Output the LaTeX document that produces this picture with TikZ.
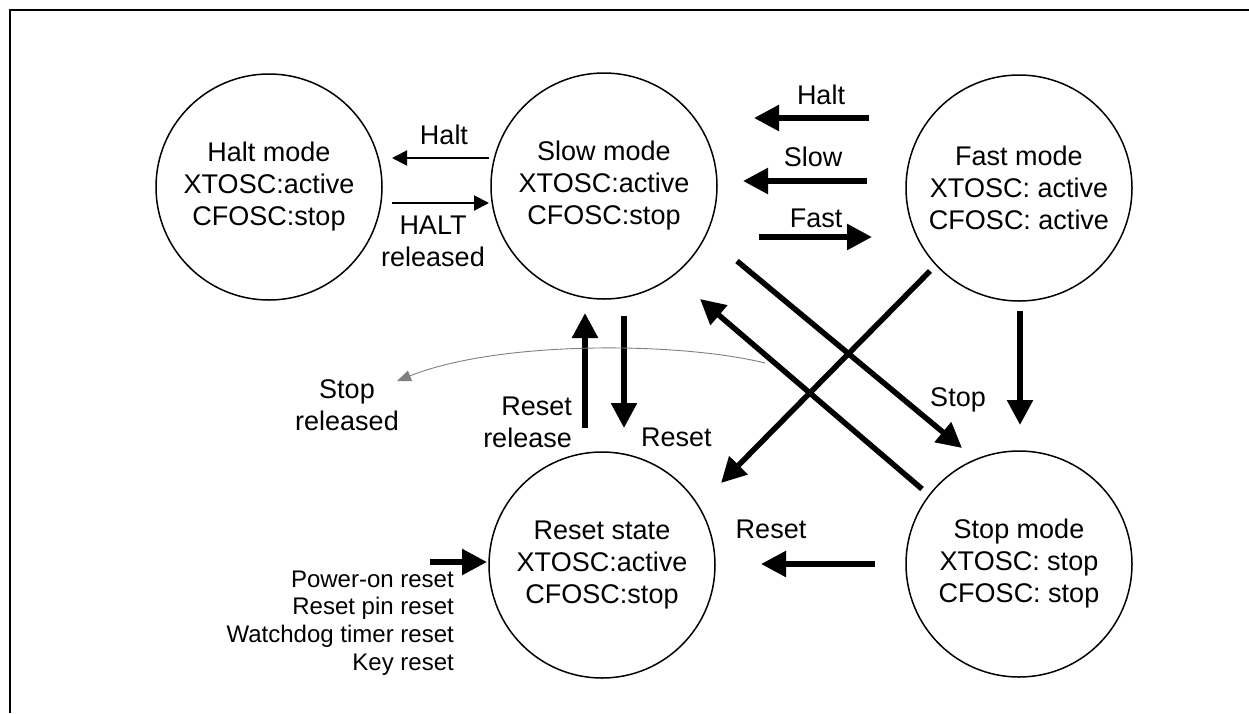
\documentclass[tikz,border=0pt]{standalone}
\usepackage{fontspec}
\setmainfont{Liberation Sans}
\usetikzlibrary{arrows.meta}
\begin{document}
\begin{tikzpicture}[x=1pt,y=-1pt,
  state/.style={circle,draw,line width=1.5pt,minimum size=226pt,inner sep=0pt,align=center,font=\fontsize{27}{32}\selectfont},
  lbl/.style={inner sep=0pt,font=\fontsize{27}{32}\selectfont},
  smalllbl/.style={inner sep=0pt,align=right,font=\fontsize{24}{27.7}\selectfont},
  bigarrow/.style={line width=5.5pt,-{Triangle[length=25pt,width=25pt]}},
  thinarrow/.style={line width=2pt,-{Triangle[length=15pt,width=15pt]}},
  greyarrow/.style={line width=0.9pt,draw=black!50,-{Triangle[length=14pt,width=11pt]}},
  frameline/.style={line width=2pt}
]
\useasboundingbox (0,0) rectangle (1249,713);
% frame
\coordinate (fr1) at (10,713);
\coordinate (fr2) at (10,10);
\coordinate (fr3) at (1249,10);
\draw[frameline] (fr1) -- (fr2) -- (fr3);

% states
\node[state] (halt) at (269,187) {Halt mode\\XTOSC:active\\CFOSC:stop};
\node[state] (slow) at (604,186) {Slow mode\\XTOSC:active\\CFOSC:stop};
\node[state] (fast) at (1019,188) {Fast mode\\XTOSC: active\\CFOSC: active};
\node[state] (reset) at (602,565) {Reset state\\XTOSC:active\\CFOSC:stop};
\node[state] (stopm) at (1019,564) {Stop mode\\XTOSC: stop\\CFOSC: stop};

% Halt <-> Slow (thin)
\coordinate (h1s) at (489,158); \coordinate (h1e) at (392,158);
\draw[thinarrow] (h1s) -- (h1e);
\node[lbl] (lhalt1) at (444,135) {Halt};
\coordinate (h2s) at (392,203); \coordinate (h2e) at (489,203);
\draw[thinarrow] (h2s) -- (h2e);
\node[lbl,align=center] (lhrel) at (433,241) {HALT\\released};

% Fast <-> Slow
\coordinate (f1s) at (869,118); \coordinate (f1e) at (754,118);
\draw[bigarrow] (f1s) -- (f1e);
\node[lbl] (lhalt2) at (821,95) {Halt};
\coordinate (f2s) at (867,181); \coordinate (f2e) at (743,181);
\draw[bigarrow] (f2s) -- (f2e);
\node[lbl] (lslow) at (813,157) {Slow};
\coordinate (f3s) at (759,237); \coordinate (f3e) at (872,237);
\draw[bigarrow] (f3s) -- (f3e);
\node[lbl] (lfast) at (816,218) {Fast};

% Slow <-> Reset
\coordinate (r1s) at (585,428); \coordinate (r1e) at (585,313);
\draw[bigarrow] (r1s) -- (r1e);
\node[lbl,align=right,anchor=east] (lrrel) at (572,422) {Reset\\release};
\coordinate (r2s) at (624,316); \coordinate (r2e) at (624,428);
\draw[bigarrow] (r2s) -- (r2e);
\node[lbl,anchor=west] (lreset1) at (641,437) {Reset};

% diagonals
\coordinate (d1s) at (737,261); \coordinate (d1e) at (962,448);
\draw[bigarrow] (d1s) -- (d1e);
\node[lbl] (lstop) at (958,400) {Stop};
\coordinate (d2s) at (922,489); \coordinate (d2e) at (700,299);
\draw[bigarrow] (d2s) -- (d2e);
\coordinate (d3s) at (930,271); \coordinate (d3e) at (721,483);
\draw[bigarrow] (d3s) -- (d3e);

% Fast -> Stop
\coordinate (v1s) at (1020,311); \coordinate (v1e) at (1020,425);
\draw[bigarrow] (v1s) -- (v1e);

% Stop -> Reset
\coordinate (s1s) at (875,564); \coordinate (s1e) at (761,564);
\draw[bigarrow] (s1s) -- (s1e);
\node[lbl] (lreset2) at (771,529) {Reset};

% external resets
\coordinate (p1s) at (430,562); \coordinate (p1e) at (487,562);
\draw[bigarrow] (p1s) -- (p1e);
\node[smalllbl,anchor=east] (lpow) at (454,623) {Power-on reset\\Reset pin reset\\Watchdog timer reset\\Key reset};

% stop released
\coordinate (g1s) at (765,363); \coordinate (g1e) at (397,381);
\draw[greyarrow] (g1s) .. controls (680,342) and (500,340) .. (g1e);
\node[lbl,align=center] (lsrel) at (347,405) {Stop\\released};
\end{tikzpicture}
\end{document}
